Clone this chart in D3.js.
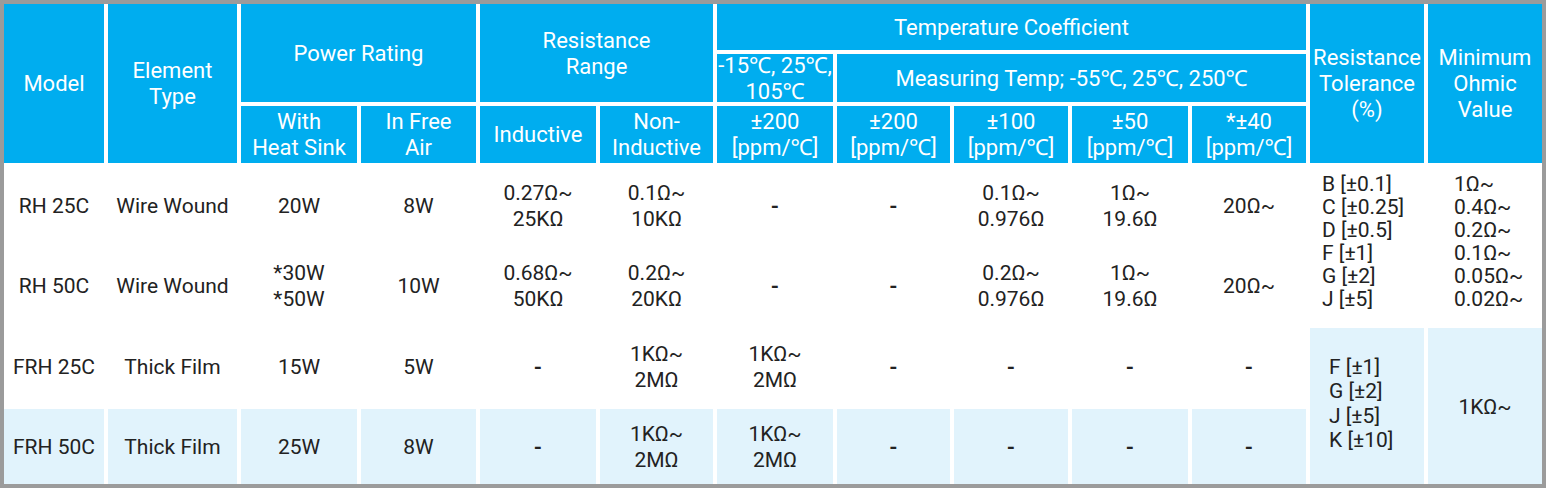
<!DOCTYPE html>
<html><head><meta charset="utf-8">
<script src="https://cdn.jsdelivr.net/npm/d3@7"></script>
<style>body{margin:0;background:#fff}svg{display:block}text{font-family:Roboto,"Noto Sans",sans-serif}</style>
</head><body><svg id="c" width="1546" height="488"></svg>
<script>
// ---- data ----
const models = ["RH 25C","RH 50C","FRH 25C","FRH 50C"];
const elementTypes = ["Wire Wound","Wire Wound","Thick Film","Thick Film"];
const withHeatSink = [["20W"],["*30W","*50W"],["15W"],["25W"]];
const inFreeAir = ["8W","10W","5W","8W"];
const inductive = [["0.27Ω~","25KΩ"],["0.68Ω~","50KΩ"],["-"],["-"]];
const nonInductive = [["0.1Ω~","10KΩ"],["0.2Ω~","20KΩ"],["1KΩ~","2MΩ"],["1KΩ~","2MΩ"]];
const tc200a = [["-"],["-"],["1KΩ~","2MΩ"],["1KΩ~","2MΩ"]];
const tc200b = ["-","-","-","-"];
const tc100 = [["0.1Ω~","0.976Ω"],["0.2Ω~","0.976Ω"],["-"],["-"]];
const tc50 = [["1Ω~","19.6Ω"],["1Ω~","19.6Ω"],["-"],["-"]];
const tc40 = ["20Ω~","20Ω~","-","-"];
const toleranceWW = ["B [±0.1]","C [±0.25]","D [±0.5]","F [±1]","G [±2]","J [±5]"];
const minOhmWW = ["1Ω~","0.4Ω~","0.2Ω~","0.1Ω~","0.05Ω~","0.02Ω~"];
const toleranceTF = ["F [±1]","G [±2]","J [±5]","K [±10]"];
const minOhmTF = ["1KΩ~"];
const headers = [
  {c0:0,c1:1,r0:0,r1:3,t:["Model"]},
  {c0:1,c1:2,r0:0,r1:3,t:["Element","Type"]},
  {c0:2,c1:4,r0:0,r1:2,t:["Power Rating"]},
  {c0:4,c1:6,r0:0,r1:2,t:["Resistance","Range"]},
  {c0:6,c1:11,r0:0,r1:1,t:["Temperature Coefficient"]},
  {c0:6,c1:7,r0:1,r1:2,t:["-15℃, 25℃,","105℃"]},
  {c0:7,c1:11,r0:1,r1:2,t:["Measuring Temp; -55℃, 25℃, 250℃"]},
  {c0:11,c1:12,r0:0,r1:3,t:["Resistance","Tolerance","(%)"]},
  {c0:12,c1:13,r0:0,r1:3,t:["Minimum","Ohmic","Value"]},
  {c0:2,c1:3,r0:2,r1:3,t:["With","Heat Sink"]},
  {c0:3,c1:4,r0:2,r1:3,t:["In Free","Air"]},
  {c0:4,c1:5,r0:2,r1:3,t:["Inductive"]},
  {c0:5,c1:6,r0:2,r1:3,t:["Non-","Inductive"]},
  {c0:6,c1:7,r0:2,r1:3,t:["±200","[ppm/℃]"]},
  {c0:7,c1:8,r0:2,r1:3,t:["±200","[ppm/℃]"]},
  {c0:8,c1:9,r0:2,r1:3,t:["±100","[ppm/℃]"]},
  {c0:9,c1:10,r0:2,r1:3,t:["±50","[ppm/℃]"]},
  {c0:10,c1:11,r0:2,r1:3,t:["*±40","[ppm/℃]"]}
];
// ---- layout ----
const colEdges = [4,108,241,361,480,600,717,837,954,1072,1192,1310,1428,1546];
const rowEdges = [4,54,106,167,247,328,409,488];
const gap = 4;
const x = d3.scaleOrdinal().domain(d3.range(14)).range(colEdges);
const y = d3.scaleOrdinal().domain(d3.range(8)).range(rowEdges);
const BLUE="#00adef", LIGHT="#e1f3fc";
const svg = d3.select("#c");
svg.append("rect").attr("width",1546).attr("height",488).attr("fill","#9b9b9b");
svg.append("rect").attr("x",4).attr("y",4).attr("width",1538).attr("height",480).attr("fill","#fff");

const cells = [];
headers.forEach(h=>cells.push({...h,fill:BLUE,color:"#fff",size:22,lh:26}));
const cols = [models.map(d=>[d]),elementTypes.map(d=>[d]),withHeatSink,inFreeAir.map(d=>[d]),inductive,nonInductive,tc200a,tc200b.map(d=>[d]),tc100,tc50,tc40.map(d=>[d])];
models.forEach((m,i)=>{
  cols.forEach((col,j)=>cells.push({c0:j,c1:j+1,r0:3+i,r1:4+i,t:col[i],fill:i===3?LIGHT:"#fff",color:"#222",size:21,lh:26}));
});
cells.push({c0:11,c1:12,r0:3,r1:5,t:toleranceWW,fill:"#fff",color:"#222",size:21,lh:23,align:"start",dx:12,dy:-5});
cells.push({c0:12,c1:13,r0:3,r1:5,t:minOhmWW,fill:"#fff",color:"#222",size:21,lh:23,align:"start",dx:26,dy:-5});
cells.push({c0:11,c1:12,r0:5,r1:7,t:toleranceTF,fill:LIGHT,color:"#222",size:21,lh:24.5,align:"start",dx:19,dy:-3});
cells.push({c0:12,c1:13,r0:5,r1:7,t:minOhmTF,fill:LIGHT,color:"#222",size:21,lh:24});

const g = svg.selectAll("g.cell").data(cells).join("g").attr("class","cell");
g.append("rect")
  .attr("x",d=>x(d.c0)).attr("y",d=>y(d.r0))
  .attr("width",d=>x(d.c1)-x(d.c0)-gap).attr("height",d=>y(d.r1)-y(d.r0)-gap)
  .attr("fill",d=>d.fill);
g.each(function(d){
  const w=x(d.c1)-x(d.c0)-gap, h=y(d.r1)-y(d.r0)-gap;
  const cx = d.align==="start" ? x(d.c0)+d.dx : x(d.c0)+w/2;
  const cy = y(d.r0)+h/2+(d.dy||0);
  const n=d.t.length;
  const t=d3.select(this).append("text").attr("fill",d.color).attr("font-size",d.size)
    .attr("text-anchor",d.align||"middle");
  d.t.forEach((s,k)=>t.append("tspan").attr("x",cx)
    .attr("y",cy+(k-(n-1)/2)*d.lh).attr("dy","0.36em")
    .attr("font-weight",s==="-"?"bold":null).text(s));
});
</script></body></html>
